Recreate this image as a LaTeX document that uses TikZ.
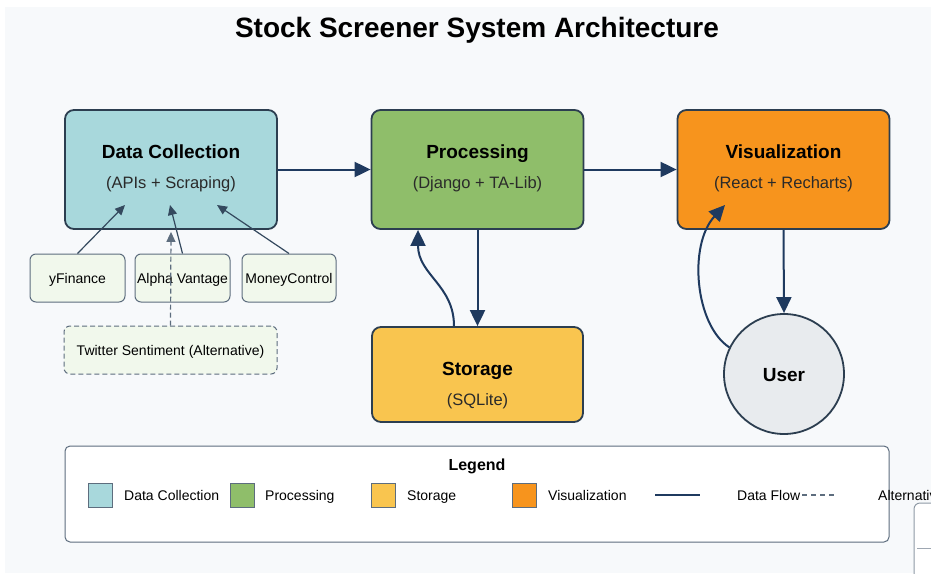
\documentclass[tikz,border=0pt]{standalone}
\usepackage{fontspec}
\setmainfont{Liberation Sans}
\usetikzlibrary{arrows.meta}
\definecolor{bg}{HTML}{F7F9FB}
\definecolor{dccol}{HTML}{A8D8DC}
\definecolor{proccol}{HTML}{8FBE6A}
\definecolor{vizcol}{HTML}{F7941D}
\definecolor{storcol}{HTML}{F9C54F}
\definecolor{usercol}{HTML}{E8EBEE}
\definecolor{srccol}{HTML}{F1F8EC}
\definecolor{bordercol}{HTML}{2C3E50}
\definecolor{flowcol}{HTML}{1F3A5F}
\definecolor{thincol}{HTML}{34495E}
\definecolor{graycol}{HTML}{5D6D7E}
\definecolor{txtcol}{HTML}{2A2A2A}
\tikzset{
  mainbox/.style={draw=bordercol, line width=1.8pt, rounded corners=9pt, minimum width=212pt, minimum height=119pt, inner sep=0pt},
  srcbox/.style={draw=graycol, line width=1pt, fill=srccol, rounded corners=6pt, minimum width=95pt, minimum height=48pt, inner sep=0pt},
  srctxt/.style={font=\fontsize{14}{16}\selectfont, text=black, inner sep=0pt, anchor=base},
  ttl/.style={font=\fontsize{19}{22}\selectfont\bfseries, text=black, inner sep=0pt, anchor=base},
  subt/.style={font=\fontsize{16.5}{19}\selectfont, text=txtcol, inner sep=0pt, anchor=base},
  flow/.style={draw=flowcol, line width=2pt, -{Triangle[length=16pt,width=15pt]}},
  thin/.style={draw=thincol, line width=1.2pt, -{Triangle[length=10pt,width=9pt]}},
  swatch/.style={draw=graycol, line width=1pt, minimum size=24pt, inner sep=0pt},
  legtxt/.style={font=\fontsize{14}{16}\selectfont, text=black, inner sep=0pt, anchor=base west},
}
\begin{document}
\begin{tikzpicture}[x=1pt,y=-1pt]
\useasboundingbox (0,0) rectangle (931,573);
\fill[white] (0,0) rectangle (931,573);
\fill[bg] (5,7) rectangle (931,573);

% title
\node[font=\fontsize{28}{32}\selectfont\bfseries, text=black, inner sep=0pt, anchor=base] (title) at (477,37) {Stock Screener System Architecture};

% main boxes
\node[mainbox, fill=dccol] (dc) at (171,169.5) {};
\node[ttl] (dct) at (171,158) {Data Collection};
\node[subt] (dcs) at (171,188) {(APIs + Scraping)};

\node[mainbox, fill=proccol] (proc) at (477.5,169.5) {};
\node[ttl] (proct) at (477.5,158) {Processing};
\node[subt] (procs) at (477.5,188) {(Django + TA-Lib)};

\node[mainbox, fill=vizcol] (viz) at (783.5,169.5) {};
\node[ttl] (vizt) at (783.5,158) {Visualization};
\node[subt] (vizs) at (783.5,188) {(React + Recharts)};

\node[mainbox, fill=storcol, minimum width=211pt, minimum height=95pt] (stor) at (477.5,374.5) {};
\node[ttl] (stort) at (477.5,375) {Storage};
\node[subt] (stors) at (477.5,405) {(SQLite)};

\node[circle, draw=bordercol, line width=1.8pt, fill=usercol, minimum size=120pt, inner sep=0pt] (user) at (784,374) {};
\node[ttl] (usert) at (784,381) {User};

% source boxes
\node[srcbox] (yf) at (77.5,278) {};
\node[srctxt] (yft) at (77.5,283) {yFinance};
\node[srcbox] (av) at (182.5,278) {};
\node[srctxt] (avt) at (182.5,283) {Alpha Vantage};
\node[srcbox, minimum width=94pt] (mc) at (289,278) {};
\node[srctxt] (mct) at (289,283) {MoneyControl};
\node[srcbox, dashed, dash pattern=on 5pt off 3pt, minimum width=213pt] (tw) at (170.5,350) {};
\node[srctxt] (twt) at (170.5,355) {Twitter Sentiment (Alternative)};

% source arrows
\draw[thin] (yf.north) -- ([xshift=-46pt,yshift=-35.5pt]dc.center);
\draw[thin] (av.north) -- ([xshift=-1pt,yshift=-35.5pt]dc.center);
\draw[thin] (mc.north) -- ([xshift=46pt,yshift=-35.5pt]dc.center);
\draw[thin, draw=graycol, dashed, dash pattern=on 5pt off 3pt] (tw.north) -- ([yshift=-2pt]dc.south);

% main flows
\draw[flow] (dc.east) -- (proc.west);
\draw[flow] (proc.east) -- (viz.west);
\draw[flow] (proc.south) -- (stor.north);
\draw[flow] ([xshift=-23.5pt]stor.north) .. controls (454,285) and (418,275) .. ([xshift=-59.5pt]proc.south);
\draw[flow] (viz.south) -- (user.north);
\draw[flow] (user.154) .. controls (695,325) and (688,245) .. ([xshift=-58.5pt,yshift=-35.5pt]viz.center);

% legend
\node[draw=graycol, line width=1pt, fill=white, rounded corners=5pt, minimum width=824pt, minimum height=96pt, inner sep=0pt] (leg) at (477,494) {};
\node[font=\fontsize{16}{18}\selectfont\bfseries, text=black, inner sep=0pt, anchor=base] (legt) at (477,470.5) {Legend};
\node[swatch, fill=dccol] (s1) at (100,495) {};
\node[legtxt] (l1) at (124,500) {Data Collection};
\node[swatch, fill=proccol] (s2) at (242,495) {};
\node[legtxt] (l2) at (265,500) {Processing};
\node[swatch, fill=storcol] (s3) at (383,495) {};
\node[legtxt] (l3) at (407,500) {Storage};
\node[swatch, fill=vizcol] (s4) at (524,495) {};
\node[legtxt] (l4) at (548,500) {Visualization};
\coordinate (fa) at (655,495);
\coordinate (fb) at (700,495);
\draw[draw=flowcol, line width=2.5pt] (fa) -- (fb);
\node[legtxt] (l5) at (737,500) {Data Flow};
\coordinate (da) at (802,495);
\coordinate (db) at (837,495);
\draw[draw=graycol, line width=1.5pt, dash pattern=on 5pt off 4pt] (da) -- (db);
\begin{scope}
\clip (0,0) rectangle (931,573);
\node[legtxt] (l6) at (878,500) {Alternative};
\draw[draw=graycol!70, fill=white, line width=1pt, rounded corners=6pt] (914,503) rectangle (960,600);
\draw[draw=graycol!60, line width=0.8pt] (917,548) -- (931,548);
\end{scope}
\end{tikzpicture}
\end{document}
